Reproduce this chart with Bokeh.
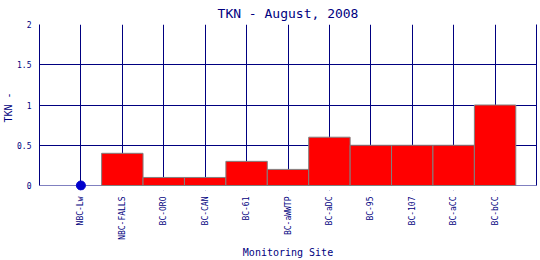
from math import pi
from bokeh.plotting import figure
from bokeh.models import (FactorRange, Range1d, ColumnDataSource, FixedTicker,
                          LinearAxis, BoxAnnotation)
from bokeh.embed import file_html
from bokeh.resources import INLINE

sites = ["NBC-Lw", "NBC-FALLS", "BC-ORO", "BC-CAN", "BC-61", "BC-aWWTP",
         "BC-aDC", "BC-95", "BC-107", "BC-aCC", "BC-bCC"]
bar_sites = ["NBC-FALLS", "BC-ORO", "BC-CAN", "BC-61", "BC-aWWTP",
             "BC-aDC", "BC-95", "BC-107", "BC-aCC", "BC-bCC"]
bar_values = [0.4, 0.1, 0.1, 0.3, 0.2, 0.6, 0.5, 0.5, 0.5, 1.0]
point_sites = ["NBC-Lw"]
point_values = [0.0]
y_ticks = [0, 0.5, 1, 1.5, 2]
y_tick_labels = ["0", "0.5", "1", "1.5", "2"]

NAVY = "#000080"
FONT = "DejaVu Sans Mono"

Y_MIN, Y_MAX = 0, 2
# small extra room below zero so the marker on the axis is not cut by the frame
Y_PAD = 5 / (161 / (Y_MAX - Y_MIN))

p = figure(width=540, height=260, output_backend="svg", toolbar_location=None,
           x_range=FactorRange(*sites, range_padding=0.5, range_padding_units="absolute"),
           y_range=Range1d(Y_MIN - Y_PAD, Y_MAX),
           min_border_left=37, min_border_right=4, min_border_top=24, min_border_bottom=70)

p.title.text = "TKN - August, 2008"
p.title.align = "center"
p.title.vertical_align = "top"
p.title.text_font = FONT
p.title.text_font_size = "13px"
p.title.text_font_style = "normal"
p.title.text_color = NAVY
p.title.offset = 0
p.title.standoff = 4

p.background_fill_color = "white"
p.border_fill_color = "white"
p.outline_line_color = None

for g in (p.xgrid, p.ygrid):
    g.grid_line_color = NAVY
    g.grid_line_width = 1
    g.grid_line_alpha = 1
p.ygrid.ticker = FixedTicker(ticks=y_ticks)

# hide the grid below the zero line
p.add_layout(BoxAnnotation(top=Y_MIN, fill_color="white", fill_alpha=1,
                           line_color=None, level="underlay"))

src = ColumnDataSource(dict(x=bar_sites, top=bar_values))
p.vbar(x="x", top="top", width=1.0, bottom=Y_MIN, source=src,
       fill_color="#ff0000", line_color="#808080", line_width=1)

psrc = ColumnDataSource(dict(x=point_sites, y=point_values))
p.scatter(x="x", y="y", source=psrc, size=9, fill_color="#0000cc", line_color="#0000cc")

p.yaxis.ticker = FixedTicker(ticks=y_ticks)
p.yaxis.major_label_overrides = {t: l for t, l in zip(y_ticks, y_tick_labels)}
p.yaxis.bounds = (Y_MIN, Y_MAX)

for ax in (p.xaxis, p.yaxis):
    ax.axis_line_color = NAVY
    ax.axis_line_width = 1
    ax.major_tick_line_color = None
    ax.minor_tick_line_color = None
    ax.major_label_text_font = FONT
    ax.major_label_text_font_size = "8px"
    ax.major_label_text_color = NAVY
    ax.axis_label_text_font = FONT
    ax.axis_label_text_font_size = "10px"
    ax.axis_label_text_font_style = "normal"
    ax.axis_label_text_color = NAVY
    ax.major_label_standoff = 2

# the zero grid line acts as the x axis line
p.xaxis.axis_line_color = None
p.xaxis.major_label_orientation = pi / 2
p.xaxis.major_label_standoff = 0
p.xaxis.axis_label = "Monitoring Site"
p.xaxis.axis_label_standoff = 4
p.yaxis.axis_label = "TKN -"
p.yaxis.axis_label_standoff = 0

right = LinearAxis(ticker=FixedTicker(ticks=[]), bounds=(Y_MIN, Y_MAX),
                   axis_line_color=NAVY, axis_line_width=1,
                   major_tick_line_color=None, minor_tick_line_color=None,
                   major_label_standoff=0, major_tick_out=0, major_tick_in=0)
p.add_layout(right, "right")

open("out.html", "w").write(file_html(p, INLINE))
